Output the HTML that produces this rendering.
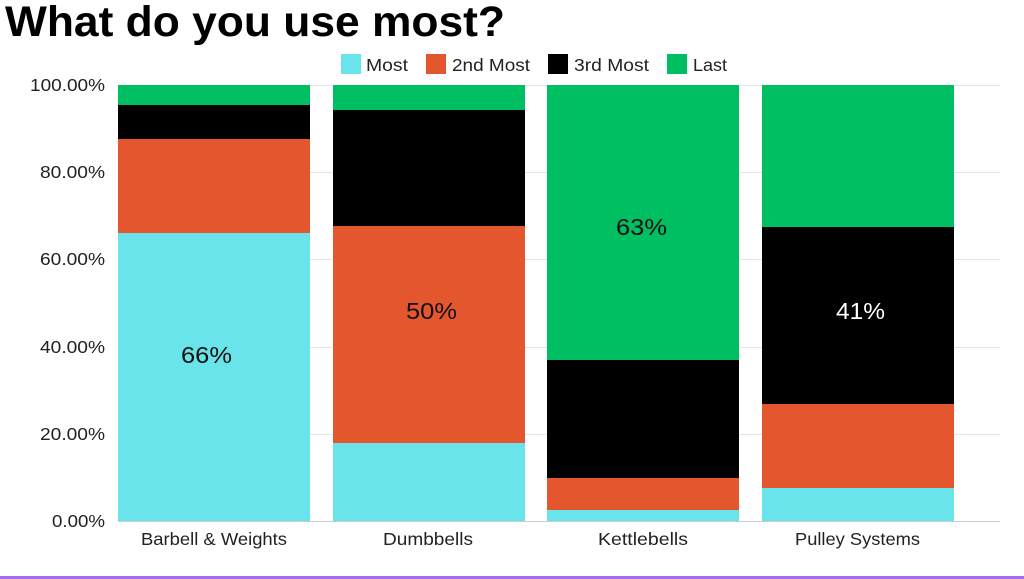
<!DOCTYPE html>
<html><head><meta charset="utf-8"><style>
html,body{margin:0;padding:0;background:#fff;width:1024px;height:579px;overflow:hidden}
</style></head><body>
<svg width="1024" height="579" xmlns="http://www.w3.org/2000/svg" font-family="Liberation Sans, sans-serif">
<text x="5" y="36" font-size="43" font-weight="bold" fill="#000" textLength="500" lengthAdjust="spacingAndGlyphs">What do you use most?</text>
<rect x="341" y="54" width="20" height="20" fill="#69e4ea"/><text x="366" y="71" font-size="17.5" fill="#222" textLength="42" lengthAdjust="spacingAndGlyphs">Most</text>
<rect x="426" y="54" width="20" height="20" fill="#e4572e"/><text x="452" y="71" font-size="17.5" fill="#222" textLength="78" lengthAdjust="spacingAndGlyphs">2nd Most</text>
<rect x="548" y="54" width="20" height="20" fill="#000"/><text x="574" y="71" font-size="17.5" fill="#222" textLength="75" lengthAdjust="spacingAndGlyphs">3rd Most</text>
<rect x="667" y="54" width="20" height="20" fill="#00bf63"/><text x="693" y="71" font-size="17.5" fill="#222" textLength="34" lengthAdjust="spacingAndGlyphs">Last</text>
<g stroke="#e6e6e6" stroke-width="1">
<line x1="118" x2="1000" y1="85.5" y2="85.5"/><line x1="118" x2="1000" y1="172.5" y2="172.5"/>
<line x1="118" x2="1000" y1="259.5" y2="259.5"/><line x1="118" x2="1000" y1="347.5" y2="347.5"/>
<line x1="118" x2="1000" y1="434.5" y2="434.5"/>
</g>
<g font-size="17.5" fill="#222" text-anchor="end">
<text x="105" y="91" textLength="75" lengthAdjust="spacingAndGlyphs">100.00%</text>
<text x="105" y="178" textLength="65" lengthAdjust="spacingAndGlyphs">80.00%</text>
<text x="105" y="265" textLength="65" lengthAdjust="spacingAndGlyphs">60.00%</text>
<text x="105" y="353" textLength="65" lengthAdjust="spacingAndGlyphs">40.00%</text>
<text x="105" y="440" textLength="65" lengthAdjust="spacingAndGlyphs">20.00%</text>
<text x="105" y="527" textLength="53" lengthAdjust="spacingAndGlyphs">0.00%</text>
</g>
<rect x="118" y="85" width="192" height="21" fill="#00bf63"/>
<rect x="118" y="105" width="192" height="34" fill="#000"/>
<rect x="118" y="139" width="192" height="94" fill="#e4572e"/>
<rect x="118" y="233" width="192" height="288" fill="#69e4ea"/>
<rect x="333" y="85" width="192" height="25" fill="#00bf63"/>
<rect x="333" y="110" width="192" height="116" fill="#000"/>
<rect x="333" y="226" width="192" height="217" fill="#e4572e"/>
<rect x="333" y="443" width="192" height="78" fill="#69e4ea"/>
<rect x="547" y="85" width="192" height="275" fill="#00bf63"/>
<rect x="547" y="360" width="192" height="118" fill="#000"/>
<rect x="547" y="478" width="192" height="32" fill="#e4572e"/>
<rect x="547" y="510" width="192" height="11" fill="#69e4ea"/>
<rect x="762" y="85" width="192" height="142" fill="#00bf63"/>
<rect x="762" y="227" width="192" height="177" fill="#000"/>
<rect x="762" y="404" width="192" height="84" fill="#e4572e"/>
<rect x="762" y="488" width="192" height="33" fill="#69e4ea"/>
<line x1="118" x2="1000" y1="521.5" y2="521.5" stroke="#ccc"/>
<g font-size="23">
<text x="181" y="363" fill="#111" textLength="51" lengthAdjust="spacingAndGlyphs">66%</text>
<text x="406" y="319" fill="#111" textLength="51" lengthAdjust="spacingAndGlyphs">50%</text>
<text x="616" y="235" fill="#111" textLength="51" lengthAdjust="spacingAndGlyphs">63%</text>
<text x="836" y="319" fill="#fff" textLength="49" lengthAdjust="spacingAndGlyphs">41%</text>
</g>
<g font-size="17.5" fill="#222">
<text x="141" y="545" textLength="146" lengthAdjust="spacingAndGlyphs">Barbell &amp; Weights</text>
<text x="383" y="545" textLength="90" lengthAdjust="spacingAndGlyphs">Dumbbells</text>
<text x="598" y="545" textLength="90" lengthAdjust="spacingAndGlyphs">Kettlebells</text>
<text x="795" y="545" textLength="125" lengthAdjust="spacingAndGlyphs">Pulley Systems</text>
</g>
<rect x="0" y="576" width="1024" height="3" fill="#a66cf0"/>
</svg>
</body></html>
